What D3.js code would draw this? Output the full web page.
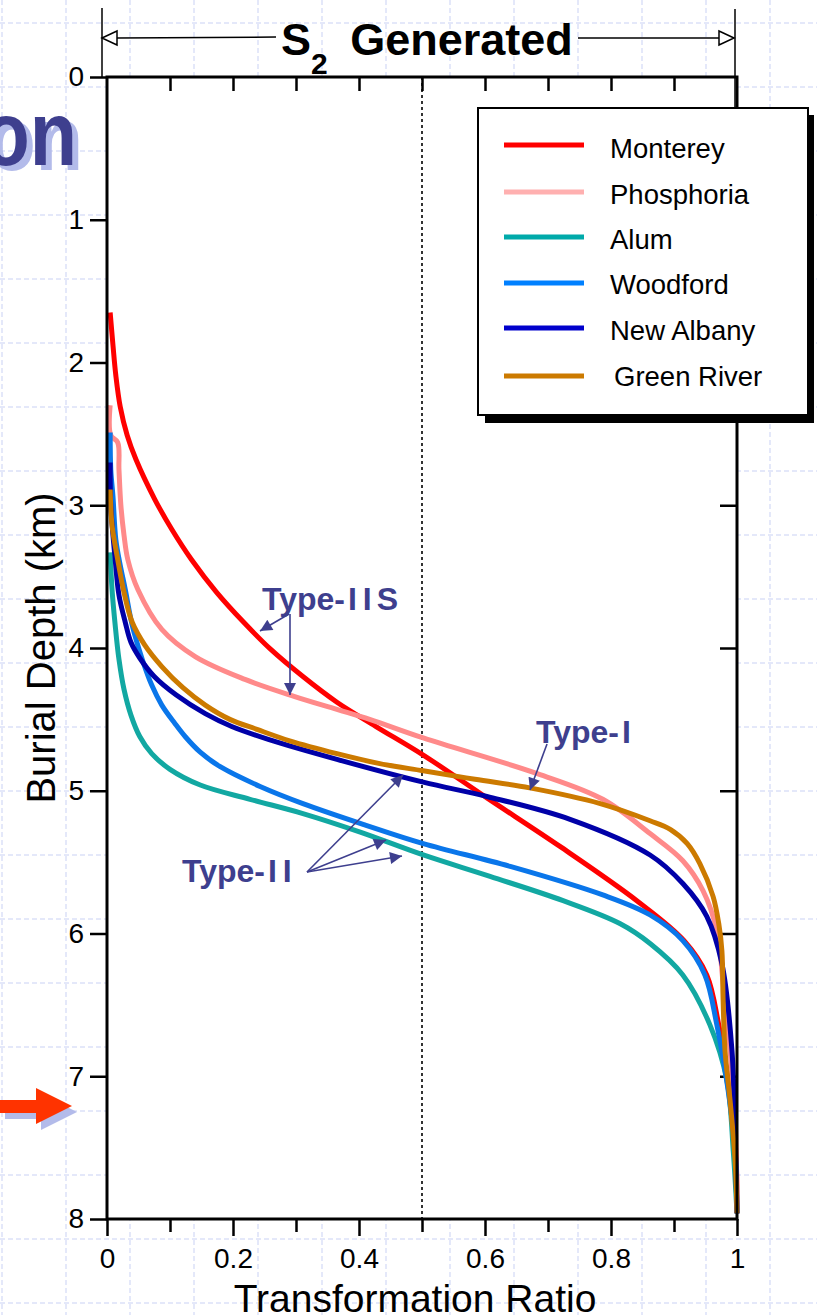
<!DOCTYPE html>
<html><head><meta charset="utf-8">
<script src="https://cdn.jsdelivr.net/npm/d3@7"></script>
<style>body{margin:0;background:#fff}svg{display:block}</style>
</head><body>
<svg id="c" width="817" height="1315"></svg>
<script>
// ---------- DATA ----------
const seriesNames = ["Monterey","Phosphoria","Alum","Woodford","New Albany","Green River"];
// [transformation ratio, burial depth km]
const monterey = [[0.005,1.65],[0.0095,1.88],[0.014,2.09],[0.021,2.31],[0.032,2.51],[0.046,2.68],[0.076,2.96],[0.103,3.17],[0.134,3.38],[0.174,3.61],[0.217,3.82],[0.26,4.01],[0.311,4.2],[0.365,4.38],[0.427,4.55],[0.502,4.75],[0.603,5.05],[0.719,5.39],[0.841,5.77],[0.916,6.05],[0.952,6.29],[0.971,6.64],[0.988,7.1],[0.998,7.52],[1.0,7.96]];
const phosphoria = [[0.005,2.3],[0.006,2.51],[0.017,2.56],[0.019,2.75],[0.022,3.0],[0.027,3.21],[0.033,3.38],[0.049,3.59],[0.087,3.87],[0.14,4.06],[0.219,4.22],[0.298,4.34],[0.365,4.43],[0.417,4.5],[0.502,4.63],[0.683,4.88],[0.787,5.06],[0.862,5.3],[0.914,5.49],[0.946,5.7],[0.968,5.98],[0.978,6.35],[0.989,6.82],[0.997,7.29],[1.0,7.96]];
const alum = [[0.005,3.33],[0.008,3.59],[0.013,3.84],[0.019,4.08],[0.027,4.29],[0.038,4.47],[0.052,4.62],[0.071,4.74],[0.1,4.85],[0.148,4.96],[0.227,5.06],[0.311,5.16],[0.402,5.29],[0.502,5.45],[0.608,5.6],[0.724,5.77],[0.814,5.93],[0.862,6.07],[0.914,6.29],[0.957,6.64],[0.984,7.03],[0.994,7.52],[1.0,7.96]];
const woodford = [[0.005,2.49],[0.006,2.75],[0.0095,2.94],[0.014,3.24],[0.021,3.42],[0.029,3.59],[0.04,3.84],[0.056,4.08],[0.071,4.26],[0.087,4.4],[0.108,4.53],[0.124,4.62],[0.148,4.73],[0.179,4.83],[0.243,4.97],[0.311,5.09],[0.41,5.24],[0.502,5.37],[0.64,5.53],[0.787,5.73],[0.862,5.87],[0.914,6.05],[0.949,6.29],[0.968,6.64],[0.986,7.1],[0.997,7.52],[1.0,7.96]];
const newAlbany = [[0.005,2.7],[0.006,3.0],[0.013,3.38],[0.019,3.63],[0.029,3.82],[0.038,3.96],[0.052,4.07],[0.075,4.2],[0.11,4.33],[0.156,4.46],[0.198,4.55],[0.256,4.64],[0.365,4.78],[0.502,4.94],[0.603,5.04],[0.735,5.2],[0.862,5.45],[0.914,5.65],[0.952,5.88],[0.976,6.21],[0.992,6.82],[0.997,7.45],[1.0,7.96]];
const greenRiver = [[0.005,2.89],[0.008,3.14],[0.017,3.38],[0.027,3.61],[0.04,3.82],[0.06,3.98],[0.087,4.13],[0.121,4.28],[0.156,4.4],[0.195,4.5],[0.238,4.57],[0.29,4.65],[0.365,4.74],[0.433,4.81],[0.502,4.86],[0.584,4.92],[0.671,4.98],[0.783,5.09],[0.862,5.21],[0.894,5.27],[0.921,5.37],[0.941,5.51],[0.962,5.74],[0.971,5.93],[0.976,6.12],[0.978,6.47],[0.981,6.82],[0.989,7.17],[0.997,7.59],[1.0,7.96]];
const seriesData = [monterey, phosphoria, alum, woodford, newAlbany, greenRiver];
const xMajorTicks = [0,0.2,0.4,0.6,0.8,1];
const xMinorTicks = [0.1,0.3,0.5,0.7,0.9];
const yTickValues = [0,1,2,3,4,5,6,7,8];
const annotations = [["Type-","II","S"],["Type-","I",""],["Type-","II",""]];

// ---------- STYLE ----------
const lineColors = ["#ff0000","#ff8a8a","#12a8a2","#0a76ea","#0000a8","#cc7a00"];
const legendColors = ["#ff0000","#ffb0b0","#00aaaa","#0080ff","#0000cc","#cc7a00"];
const annColor = "#3e3f8e";
const FONT = "'Liberation Sans', Arial, Helvetica, sans-serif";

const svg = d3.select("#c");
const W = 817, H = 1315;

// background grid
const grid = svg.append("g").attr("stroke","#c9d1f4").attr("stroke-width",1).attr("stroke-dasharray","5,3");
grid.selectAll("line.v").data(d3.range(2, W, 64)).join("line")
  .attr("x1",d=>d).attr("x2",d=>d).attr("y1",0).attr("y2",H);
grid.selectAll("line.h").data(d3.range(23, H, 64)).join("line")
  .attr("x1",0).attr("x2",W).attr("y1",d=>d).attr("y2",d=>d);

// "on" slide title fragment
svg.append("text").attr("x",83).attr("y",170).attr("text-anchor","end")
  .attr("font-family",FONT).attr("font-weight","bold").attr("font-size",90)
  .attr("fill","#b3bbea").attr("transform","translate(83,0) scale(0.86,1) translate(-83,0)").text("on");
svg.append("text").attr("x",77).attr("y",165).attr("text-anchor","end")
  .attr("font-family",FONT).attr("font-weight","bold").attr("font-size",90)
  .attr("fill",annColor).attr("transform","translate(77,0) scale(0.86,1) translate(-77,0)").text("on");

// red arrow with shadow
const arrowPts = [[0,1100],[36,1100],[36,1088],[72,1106],[36,1124],[36,1113],[0,1113]];
svg.append("polygon").attr("points",arrowPts.map(p=>[p[0]+5,p[1]+6].join(",")).join(" ")).attr("fill","#b3bbea");
svg.append("polygon").attr("points",arrowPts.map(p=>p.join(",")).join(" ")).attr("fill","#ff3300");

// scales
const x = d3.scaleLinear().domain([0,1]).range([107,737]);
const y = d3.scaleLinear().domain([0,8]).range([77,1219]);

// plot background
svg.append("rect").attr("x",x(0)).attr("y",y(0)).attr("width",x(1)-x(0)).attr("height",y(8)-y(0)).attr("fill","#fff");

// dashed 0.5 line
svg.append("line").attr("x1",x(0.5)).attr("x2",x(0.5)).attr("y1",y(0)).attr("y2",y(8))
  .attr("stroke","#000").attr("stroke-width",1.6).attr("stroke-dasharray","3,3");

// axes (ticks)
function styleAxis(g){
  g.select(".domain").remove();
  g.selectAll(".tick line").attr("stroke","#000").attr("stroke-width",2.5);
  g.selectAll(".tick text").attr("font-family",FONT).attr("font-size",28).attr("fill","#000");
}
svg.append("g").attr("transform",`translate(${x(1)},0)`)
  .call(d3.axisRight(y).tickValues(yTickValues.slice(1,-1)).tickSize(-17).tickFormat("")).call(styleAxis);

// curves
const line = d3.line().x(d=>x(d[0])).y(d=>y(d[1])).curve(d3.curveCatmullRom.alpha(0.5));
svg.append("g").selectAll("path").data(seriesData).join("path")
  .attr("d",line).attr("fill","none").attr("stroke",(d,i)=>lineColors[i]).attr("stroke-width",5);

svg.append("g").attr("transform",`translate(${x(0)},0)`)
  .call(d3.axisLeft(y).tickValues(yTickValues).tickSize(17).tickPadding(6).tickFormat(d3.format("d"))).call(styleAxis);
svg.append("g").attr("transform",`translate(0,${y(8)})`)
  .call(d3.axisBottom(x).tickValues(xMajorTicks).tickSize(17).tickPadding(12).tickFormat(d=>d===0||d===1?d3.format("d")(d):d3.format(".1f")(d))).call(styleAxis);
svg.append("g").attr("transform",`translate(0,${y(8)})`)
  .call(d3.axisBottom(x).tickValues(xMinorTicks).tickSize(13).tickFormat("")).call(styleAxis);
svg.append("g").attr("transform",`translate(0,${y(0)})`)
  .call(d3.axisTop(x).tickValues(xMajorTicks.concat(xMinorTicks).filter(v=>v>0&&v<1)).tickSize(-14).tickFormat("")).call(styleAxis);

// frame
svg.append("rect").attr("x",x(0)).attr("y",y(0)).attr("width",x(1)-x(0)).attr("height",y(8)-y(0))
  .attr("fill","none").attr("stroke","#000").attr("stroke-width",3);

// axis titles
svg.append("text").attr("x",415).attr("y",1312).attr("text-anchor","middle")
  .attr("font-family",FONT).attr("font-size",39).attr("fill","#000").text("Transformation Ratio");
svg.append("text").attr("transform","translate(55,648) rotate(-90)").attr("text-anchor","middle")
  .attr("font-family",FONT).attr("font-size",40).attr("fill","#000").text("Burial Depth (km)");

// S2 Generated header
const hdr = svg.append("g").attr("stroke","#000");
hdr.append("line").attr("x1",102).attr("x2",102).attr("y1",8).attr("y2",77).attr("stroke-width",1.5);
hdr.append("line").attr("x1",735).attr("x2",735).attr("y1",9).attr("y2",108).attr("stroke-width",1.5);
hdr.append("line").attr("x1",117).attr("x2",276).attr("y1",38).attr("y2",37).attr("stroke-width",1.5);
hdr.append("line").attr("x1",578).attr("x2",719).attr("y1",38).attr("y2",38).attr("stroke-width",1.5);
hdr.append("polygon").attr("points","102,38 117,31 117,45").attr("fill","#fff").attr("stroke-width",1.5);
hdr.append("polygon").attr("points","734,38 719,31 719,45").attr("fill","#fff").attr("stroke-width",1.5);
const ht = svg.append("text").attr("x",281).attr("y",55).attr("font-family",FONT).attr("font-weight","bold").attr("font-size",45).attr("fill","#000");
ht.append("tspan").text("S");
ht.append("tspan").attr("font-size",30).attr("dy",19).text("2");
ht.append("tspan").attr("dy",-19).attr("dx",10).text(" Generated");

// legend
const lg = svg.append("g");
lg.append("rect").attr("x",485).attr("y",115).attr("width",329).attr("height",308).attr("fill","#000");
lg.append("rect").attr("x",478).attr("y",108).attr("width",330).attr("height",307).attr("fill","#fff").attr("stroke","#000").attr("stroke-width",2);
const rowY = [145,192,237,283,328,376];
const textY = [158,204,249,294,340,386];
seriesNames.forEach((n,i)=>{
  lg.append("line").attr("x1",504).attr("x2",584).attr("y1",rowY[i]).attr("y2",rowY[i]).attr("stroke",legendColors[i]).attr("stroke-width",5);
  lg.append("text").attr("x",i===5?614:610).attr("y",textY[i]).attr("font-family",FONT).attr("font-size",27.5).attr("fill","#000").text(n);
});

// annotations
const defs = svg.append("defs");
defs.append("marker").attr("id","ah").attr("viewBox","0 0 10 10").attr("refX",10).attr("refY",5)
  .attr("markerWidth",17).attr("markerHeight",12).attr("markerUnits","userSpaceOnUse").attr("orient","auto")
  .append("path").attr("d","M0,0 L10,5 L0,10 z").attr("fill",annColor);
const an = svg.append("g").attr("font-family",FONT).attr("font-weight","bold").attr("font-size",32).attr("fill",annColor);
const annPos = [[262,610],[536,743],[182,882]];
annotations.forEach((a,i)=>{
  const t = an.append("text").attr("x",annPos[i][0]).attr("y",annPos[i][1]);
  t.append("tspan").text(a[0]);
  t.append("tspan").attr("dx",3).attr("letter-spacing",6).text(a[1]);
  if (a[2]) t.append("tspan").attr("dx",-1).text(a[2]);
});
const arrows = [
  [[289,614],[260,631]],[[290,614],[290,695]],
  [[547,744],[530,790]],
  [[307,872],[403,775]],[[307,872],[386,840]],[[307,872],[402,856]]
];
svg.append("g").selectAll("line").data(arrows).join("line")
  .attr("x1",d=>d[0][0]).attr("y1",d=>d[0][1]).attr("x2",d=>d[1][0]).attr("y2",d=>d[1][1])
  .attr("stroke",annColor).attr("stroke-width",1.6).attr("marker-end","url(#ah)");
</script>
</body></html>
